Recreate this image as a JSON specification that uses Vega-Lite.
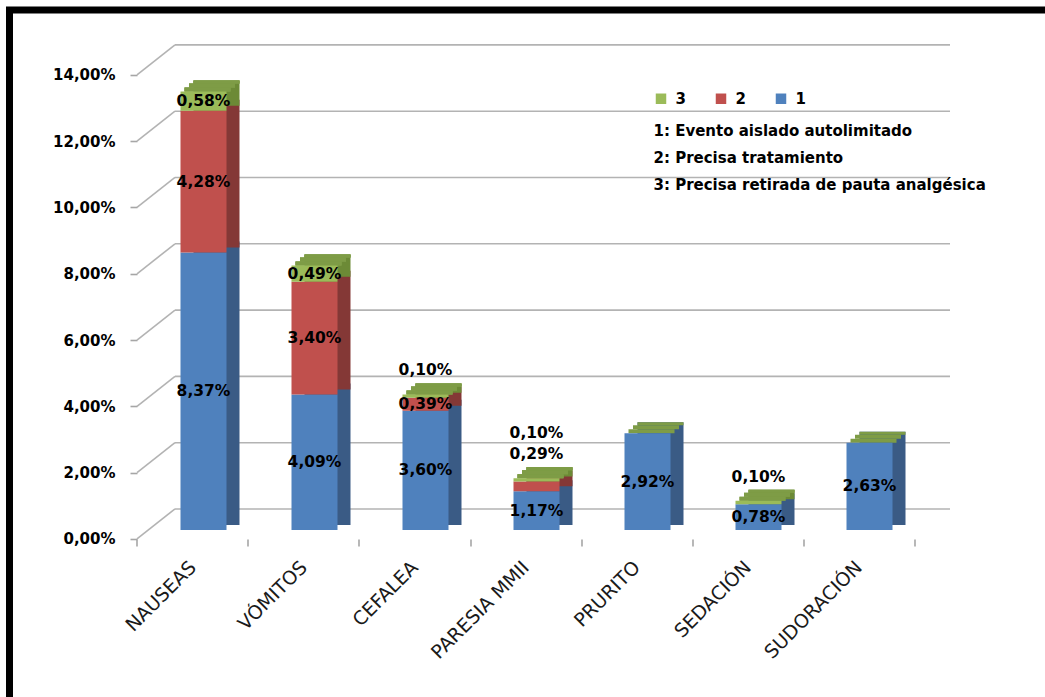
{
  "$schema": "https://vega.github.io/schema/vega-lite/v6.json",
  "width": 1054,
  "height": 700,
  "autosize": {"type": "none"},
  "padding": {"left": 9.5, "top": 10, "right": 0, "bottom": 0},
  "background": "white",
  "config": {
    "view": {"stroke": "#000000", "strokeWidth": 7, "fill": "white"},
    "font": "DejaVu Sans"
  },
  "datasets": {
    "bars": [
      {"cat": "NAUSEAS", "s": "1", "v": 8.37},
      {"cat": "NAUSEAS", "s": "2", "v": 4.28},
      {"cat": "NAUSEAS", "s": "3", "v": 0.58},
      {"cat": "VÓMITOS", "s": "1", "v": 4.09},
      {"cat": "VÓMITOS", "s": "2", "v": 3.40},
      {"cat": "VÓMITOS", "s": "3", "v": 0.49},
      {"cat": "CEFALEA", "s": "1", "v": 3.60},
      {"cat": "CEFALEA", "s": "2", "v": 0.39},
      {"cat": "CEFALEA", "s": "3", "v": 0.10},
      {"cat": "PARESIA MMII", "s": "1", "v": 1.17},
      {"cat": "PARESIA MMII", "s": "2", "v": 0.29},
      {"cat": "PARESIA MMII", "s": "3", "v": 0.10},
      {"cat": "PRURITO", "s": "1", "v": 2.92},
      {"cat": "SEDACIÓN", "s": "1", "v": 0.78},
      {"cat": "SEDACIÓN", "s": "3", "v": 0.10},
      {"cat": "SUDORACIÓN", "s": "1", "v": 2.63}
    ],
    "grid": [{"g": 0}, {"g": 2}, {"g": 4}, {"g": 6}, {"g": 8}, {"g": 10}, {"g": 12}, {"g": 14}]
  },
  "layer": [
    {
      "data": {"name": "grid"},
      "mark": {"type": "rule", "color": "#B3B3B3", "strokeWidth": 1.6, "yOffset": -21, "y2Offset": -21},
      "encoding": {
        "x": {"datum": "NAUSEAS", "type": "nominal", "bandPosition": -0.1196},
        "x2": {"datum": "SUDORACIÓN", "bandPosition": 2.25},
        "y": {"field": "g", "type": "quantitative", "title": null},
        "y2": {"field": "g"}
      }
    },
    {
      "data": {"name": "grid"},
      "mark": {"type": "rule", "color": "#B3B3B3", "strokeWidth": 1.6, "yOffset": 9, "y2Offset": -21},
      "encoding": {
        "x": {"datum": "NAUSEAS", "type": "nominal", "bandPosition": -0.9457},
        "x2": {"datum": "NAUSEAS", "bandPosition": -0.1196},
        "y": {"field": "g", "type": "quantitative", "title": null},
        "y2": {"field": "g"}
      }
    },
    {
      "mark": {"type": "rule", "color": "#A6A6A6", "strokeWidth": 1.6, "yOffset": 9, "y2Offset": 9},
      "encoding": {
        "x": {"datum": "NAUSEAS", "type": "nominal", "bandPosition": -0.9457},
        "y": {"datum": 0, "type": "quantitative"},
        "y2": {"datum": 14}
      }
    },
    {
      "mark": {"type": "rule", "color": "#A6A6A6", "strokeWidth": 1.6, "yOffset": 9, "y2Offset": 9},
      "encoding": {
        "x": {"datum": "NAUSEAS", "type": "nominal", "bandPosition": -0.9457},
        "x2": {"datum": "SUDORACIÓN", "bandPosition": 1.489},
        "y": {"datum": 0, "type": "quantitative"},
        "y2": {"datum": 0}
      }
    },
    {
      "mark": {"type": "rule", "color": "#B3B3B3", "strokeWidth": 1.6, "yOffset": 9, "y2Offset": -21},
      "encoding": {
        "x": {"datum": "SUDORACIÓN", "type": "nominal", "bandPosition": 1.489},
        "x2": {"datum": "SUDORACIÓN", "bandPosition": 2.25},
        "y": {"datum": 0, "type": "quantitative"},
        "y2": {"datum": 0}
      }
    },
    {
      "data": {"name": "bars"},
      "transform": [
        {"stack": "v", "groupby": ["cat"], "sort": [{"field": "s", "order": "ascending"}], "as": ["v0", "v1"]}
      ],
      "mark": {"type": "bar", "xOffset": 13, "yOffset": -11, "y2Offset": -5},
      "encoding": {
        "x": {"field": "cat", "type": "nominal"},
        "y": {"field": "v1", "type": "quantitative", "title": null},
        "y2": {"field": "v0"},
        "color": {
          "condition": [
            {"test": "datum.s === '1'", "value": "#3A5B85"},
            {"test": "datum.s === '2'", "value": "#843836"}
          ],
          "value": "#6C8A36"
        }
      }
    },
    {
      "data": {"name": "bars"},
      "transform": [
        {"joinaggregate": [{"op": "sum", "field": "v", "as": "total"}], "groupby": ["cat"]}
      ],
      "mark": {"type": "bar", "color": "#7E9C46", "xOffset": 4, "yOffset": -4},
      "encoding": {
        "x": {"field": "cat", "type": "nominal"},
        "y": {"field": "total", "type": "quantitative", "title": null},
        "y2": {"field": "total"}
      }
    },
    {
      "data": {"name": "bars"},
      "transform": [
        {"joinaggregate": [{"op": "sum", "field": "v", "as": "total"}], "groupby": ["cat"]}
      ],
      "mark": {"type": "bar", "color": "#7E9C46", "xOffset": 8.5, "yOffset": -8, "y2Offset": -4},
      "encoding": {
        "x": {"field": "cat", "type": "nominal"},
        "y": {"field": "total", "type": "quantitative", "title": null},
        "y2": {"field": "total"}
      }
    },
    {
      "data": {"name": "bars"},
      "transform": [
        {"joinaggregate": [{"op": "sum", "field": "v", "as": "total"}], "groupby": ["cat"]}
      ],
      "mark": {"type": "bar", "color": "#7E9C46", "xOffset": 13, "yOffset": -11, "y2Offset": -8},
      "encoding": {
        "x": {"field": "cat", "type": "nominal"},
        "y": {"field": "total", "type": "quantitative", "title": null},
        "y2": {"field": "total"}
      }
    },
    {
      "data": {"name": "bars"},
      "transform": [
        {"stack": "v", "groupby": ["cat"], "sort": [{"field": "s", "order": "ascending"}], "as": ["v0", "v1"]}
      ],
      "mark": {"type": "bar"},
      "encoding": {
        "x": {
          "field": "cat",
          "type": "nominal",
          "scale": {
            "domain": ["_a", "NAUSEAS", "VÓMITOS", "CEFALEA", "PARESIA MMII", "PRURITO", "SEDACIÓN", "SUDORACIÓN", "_b"],
            "paddingInner": 0.5856,
            "paddingOuter": 0.5405
          },
          "axis": {
            "title": null,
            "values": ["NAUSEAS", "VÓMITOS", "CEFALEA", "PARESIA MMII", "PRURITO", "SEDACIÓN", "SUDORACIÓN", "_b"],
            "labelExpr": "datum.value === '_b' ? '' : datum.value",
            "offset": -171,
            "domain": false,
            "tickBand": "center",
            "tickOffset": -66.5,
            "labelOffset": 55.5,
            "tickSize": 7,
            "tickColor": "#A6A6A6",
            "tickWidth": 1.6,
            "labelAngle": -45,
            "labelAlign": "right",
            "labelBaseline": "middle",
            "labelPadding": 18,
            "labelFont": "DejaVu Sans",
            "labelFontSize": 19,
            "labelColor": "#1A1A1A"
          }
        },
        "y": {
          "field": "v1",
          "type": "quantitative",
          "title": null,
          "scale": {"domain": [-5.43, 15.686], "nice": false, "zero": false},
          "axis": {
            "title": null,
            "values": [0, 2, 4, 6, 8, 10, 12, 14],
            "offset": -127.5,
            "domain": false,
            "grid": false,
            "tickSize": 7,
            "tickOffset": 9,
            "tickColor": "#A6A6A6",
            "tickWidth": 1.6,
            "labelPadding": 15,
            "labelFont": "DejaVu Sans",
            "labelFontSize": 15,
            "labelFontWeight": "bold",
            "labelColor": "#000000",
            "labelExpr": "replace(format(datum.value, '.2f'), '.', ',') + '%'"
          }
        },
        "y2": {"field": "v0"},
        "color": {
          "field": "s",
          "type": "nominal",
          "scale": {"domain": ["3", "2", "1"], "range": ["#9BBB59", "#C0504D", "#4F81BD"]},
          "legend": {
            "orient": "none",
            "legendX": 644,
            "legendY": 81,
            "direction": "horizontal",
            "padding": 0,
            "title": ["1: Evento aislado autolimitado", "2: Precisa tratamiento", "3: Precisa retirada de pauta analgésica"],
            "titleOrient": "bottom",
            "titleAnchor": "start",
            "titleFont": "DejaVu Sans",
            "titleFontSize": 15,
            "titleFontWeight": "bold",
            "titleColor": "#000000",
            "titleLineHeight": 27,
            "titlePadding": 17,
            "titleLimit": 600,
            "labelFont": "DejaVu Sans",
            "labelFontSize": 15,
            "labelFontWeight": "bold",
            "labelColor": "#000000",
            "labelOffset": 7,
            "columnPadding": 27,
            "symbolType": "square",
            "symbolSize": 110,
            "symbolStrokeWidth": 0
          }
        }
      }
    },
    {
      "data": {"name": "bars"},
      "transform": [
        {"stack": "v", "groupby": ["cat"], "sort": [{"field": "s", "order": "ascending"}], "as": ["v0", "v1"]},
        {"calculate": "(datum.v0 + datum.v1) / 2", "as": "mid"},
        {"calculate": "replace(format(datum.v, '.2f'), '.', ',') + '%'", "as": "lab"},
        {"filter": "!((datum.cat === 'CEFALEA' && datum.s === '3') || (datum.cat === 'PARESIA MMII' && datum.s !== '1') || (datum.cat === 'SEDACIÓN' && datum.s === '3'))"}
      ],
      "mark": {"type": "text", "font": "DejaVu Sans", "fontSize": 15.5, "fontWeight": "bold", "color": "#000000"},
      "encoding": {
        "x": {"field": "cat", "type": "nominal"},
        "y": {"field": "mid", "type": "quantitative", "title": null},
        "text": {"field": "lab"}
      }
    },
    {
      "data": {"name": "bars"},
      "transform": [
        {"joinaggregate": [{"op": "sum", "field": "v", "as": "total"}], "groupby": ["cat"]},
        {"calculate": "replace(format(datum.v, '.2f'), '.', ',') + '%'", "as": "lab"},
        {"filter": "(datum.cat === 'CEFALEA' && datum.s === '3') || (datum.cat === 'PARESIA MMII' && datum.s === '2') || (datum.cat === 'SEDACIÓN' && datum.s === '3')"}
      ],
      "mark": {"type": "text", "font": "DejaVu Sans", "fontSize": 15.5, "fontWeight": "bold", "color": "#000000", "dy": -24},
      "encoding": {
        "x": {"field": "cat", "type": "nominal"},
        "y": {"field": "total", "type": "quantitative", "title": null},
        "text": {"field": "lab"}
      }
    },
    {
      "data": {"name": "bars"},
      "transform": [
        {"joinaggregate": [{"op": "sum", "field": "v", "as": "total"}], "groupby": ["cat"]},
        {"calculate": "replace(format(datum.v, '.2f'), '.', ',') + '%'", "as": "lab"},
        {"filter": "datum.cat === 'PARESIA MMII' && datum.s === '3'"}
      ],
      "mark": {"type": "text", "font": "DejaVu Sans", "fontSize": 15.5, "fontWeight": "bold", "color": "#000000", "dy": -45},
      "encoding": {
        "x": {"field": "cat", "type": "nominal"},
        "y": {"field": "total", "type": "quantitative", "title": null},
        "text": {"field": "lab"}
      }
    }
  ]
}
